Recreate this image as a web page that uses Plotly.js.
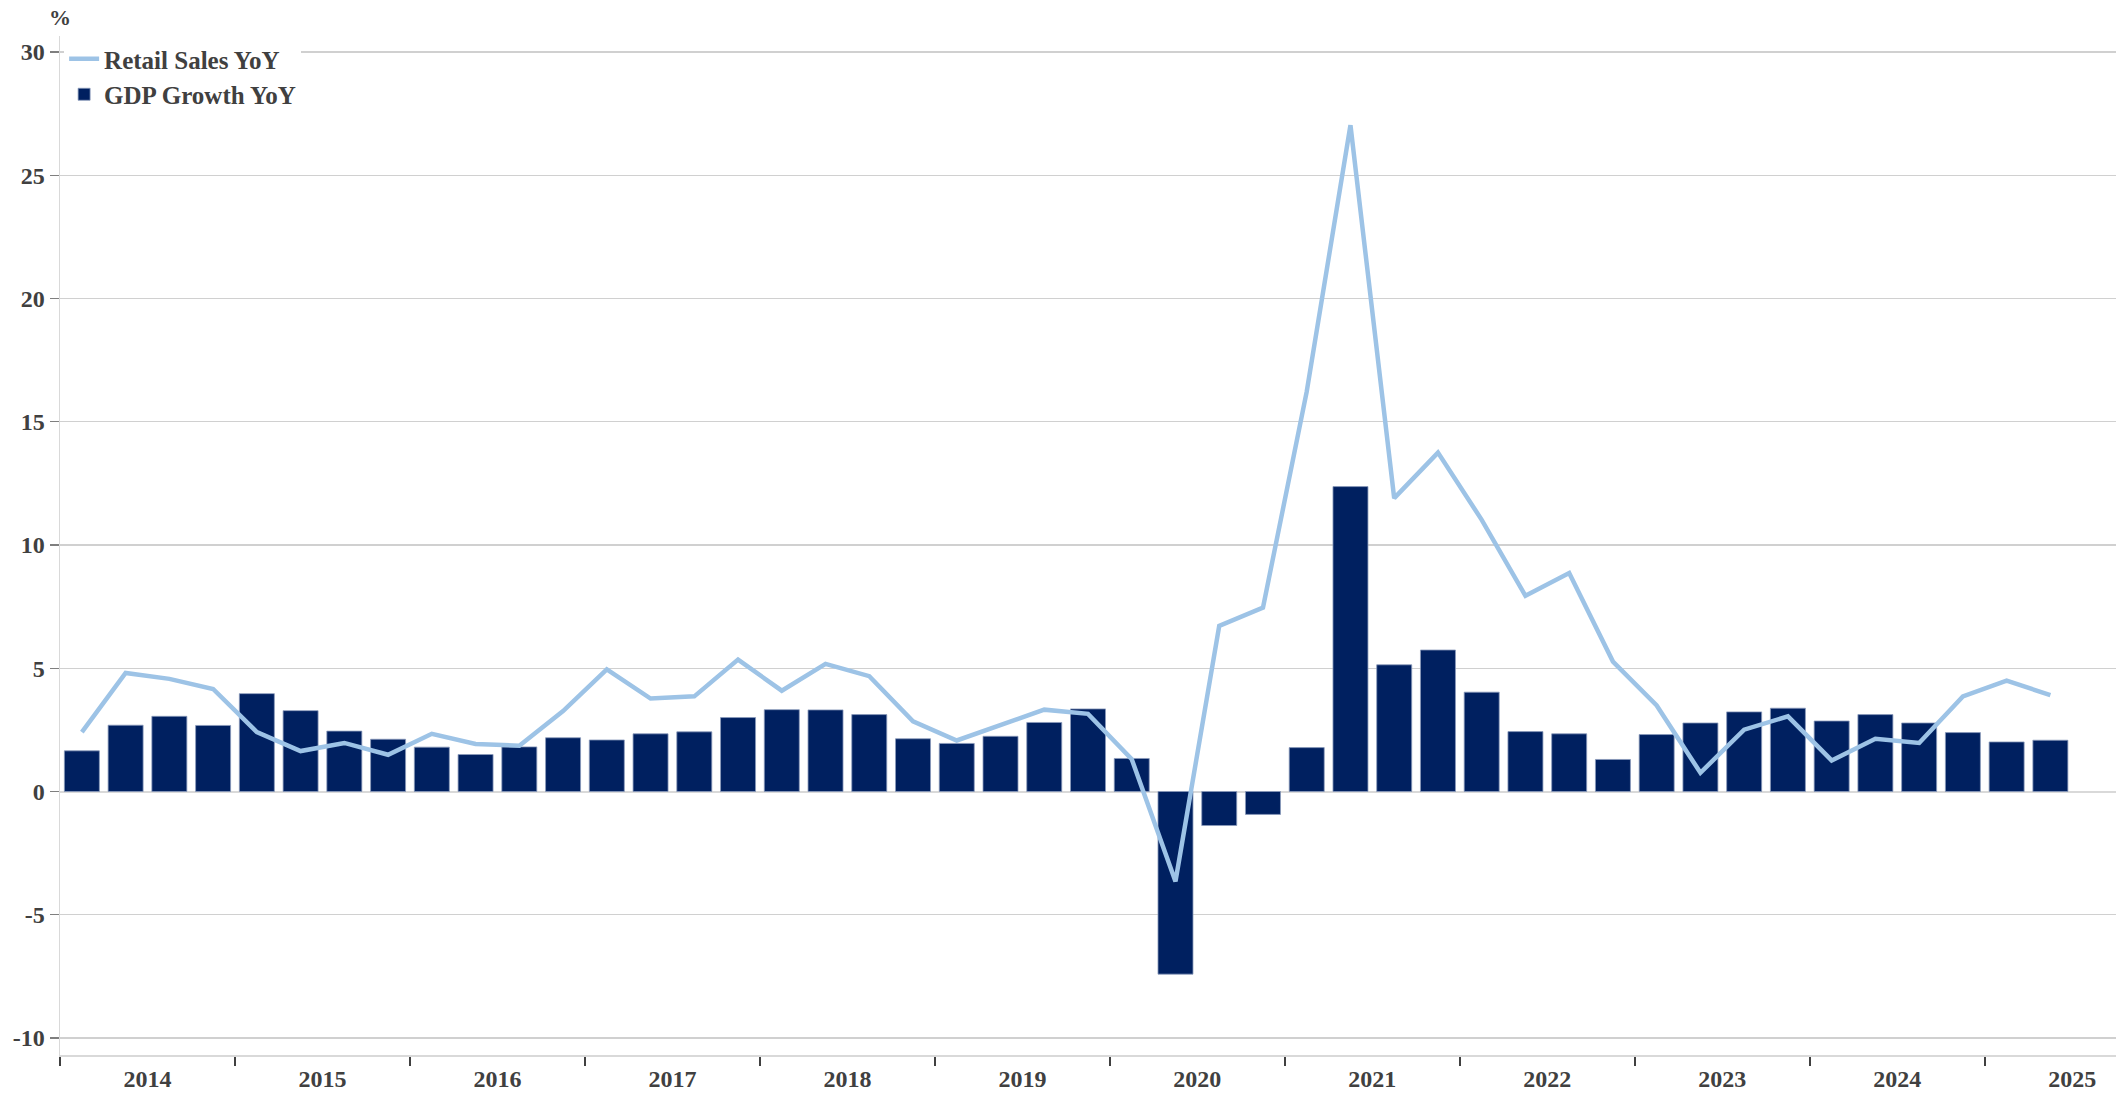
<!DOCTYPE html>
<html>
<head>
<meta charset="utf-8">
<script src="https://cdn.plot.ly/plotly-3.0.1.min.js"></script>
<style>
html,body{margin:0;padding:0;background:#fff;overflow:hidden;}
#chart{width:2119px;height:1095px;}
</style>
</head>
<body>
<div id="chart"></div>
<script>
const quarters = [
 "2014Q1","2014Q2","2014Q3","2014Q4","2015Q1","2015Q2","2015Q3","2015Q4",
 "2016Q1","2016Q2","2016Q3","2016Q4","2017Q1","2017Q2","2017Q3","2017Q4",
 "2018Q1","2018Q2","2018Q3","2018Q4","2019Q1","2019Q2","2019Q3","2019Q4",
 "2020Q1","2020Q2","2020Q3","2020Q4","2021Q1","2021Q2","2021Q3","2021Q4",
 "2022Q1","2022Q2","2022Q3","2022Q4","2023Q1","2023Q2","2023Q3","2023Q4",
 "2024Q1","2024Q2","2024Q3","2024Q4","2025Q1","2025Q2"
];
const retailSalesYoY = [
 2.41,4.81,4.57,4.16, 2.41,1.64,1.97,1.49, 2.34,1.93,1.86,3.26,
 4.95,3.77,3.86,5.35, 4.09,5.18,4.68,2.85, 2.07,2.70,3.32,3.15,
 1.31,-3.65,6.72,7.46, 16.22,27.03,11.90,13.75, 11.02,7.94,8.86,5.27,
 3.49,0.76,2.51,3.05, 1.26,2.14,1.97,3.86, 4.50,3.91
];
const gdpGrowthYoY = [
 1.65,2.69,3.05,2.68, 3.97,3.28,2.45,2.12, 1.80,1.50,1.81,2.18,
 2.09,2.34,2.42,3.00, 3.32,3.31,3.12,2.14, 1.95,2.24,2.80,3.35,
 1.34,-7.41,-1.38,-0.93, 1.78,12.37,5.14,5.74, 4.03,2.43,2.34,1.30,
 2.31,2.78,3.23,3.38, 2.86,3.12,2.78,2.39, 2.01,2.08
];
const years = [2014,2015,2016,2017,2018,2019,2020,2021,2022,2023,2024,2025];
const yTicks = [-10,-5,0,5,10,15,20,25,30];

// positions derived from the quarter list
const xIdx = quarters.map((q,i)=>i);
const yearCenters = years.map((y,k)=>4*k+1.5);
const yearBounds = years.map((y,k)=>4*k-0.5);

const FONT = "Liberation Serif, Times New Roman, serif";
const TXT = "#404040";

const traces = [
 {type:"scatter", mode:"lines", name:"Retail Sales YoY", x:xIdx, y:retailSalesYoY,
  line:{color:"#9dc3e6", width:4.5}, text:quarters, hovertemplate:"%{text}: %{y}<extra></extra>"},
 {type:"bar", name:"GDP Growth YoY", x:xIdx, y:gdpGrowthYoY, width:0.8,
  marker:{color:"#002060", line:{color:"#8a9bbb", width:0.8}}, text:quarters,
  textposition:"none", hovertemplate:"%{text}: %{y}<extra></extra>"}
];

const layout = {
 width:2119, height:1095,
 margin:{l:60, r:3, t:36, b:40},
 paper_bgcolor:"#fff", plot_bgcolor:"#fff",
 font:{family:FONT, color:TXT, size:23, weight:700},
 showlegend:true,
 legend:{x:0.002, y:1.0, xanchor:"left", yanchor:"top", bgcolor:"#fff",
   font:{family:FONT, size:25, color:TXT, weight:700}, tracegroupgap:0, itemwidth:30},
 xaxis:{range:[-0.5,46.5], tickmode:"array", tickvals:yearCenters, ticktext:years.map(String),
   ticks:"", showgrid:false, zeroline:false, showline:true, linecolor:"#d9d9d9", linewidth:2,
   ticklabelstandoff:1, tickfont:{family:FONT, size:24, color:TXT, weight:700},
   minor:{tickmode:"array", tickvals:yearBounds, ticks:"outside", ticklen:9, tickcolor:"#404040", tickwidth:1.5, showgrid:false}},
 yaxis:{range:[-10.69,30.65], tickmode:"array", tickvals:yTicks, ticktext:yTicks.map(String),
   ticks:"outside", ticklen:9, tickcolor:"#7f7f7f", tickwidth:1.2,
   showgrid:true, gridcolor:"#d0d0d0", gridwidth:1.3,
   zeroline:true, zerolinecolor:"#d9d9d9", zerolinewidth:2,
   showline:true, linecolor:"#d9d9d9", linewidth:1.5,
   tickfont:{family:FONT, size:24, color:TXT, weight:700}},
 bargap:0.2,
 annotations:[{text:"%", xref:"paper", yref:"paper", x:0, y:1.0186, xanchor:"center", yanchor:"middle",
   showarrow:false, font:{family:FONT, size:22, color:TXT, weight:700}}]
};

Plotly.newPlot("chart", traces, layout, {displayModeBar:false, staticPlot:true});
</script>
</body>
</html>
